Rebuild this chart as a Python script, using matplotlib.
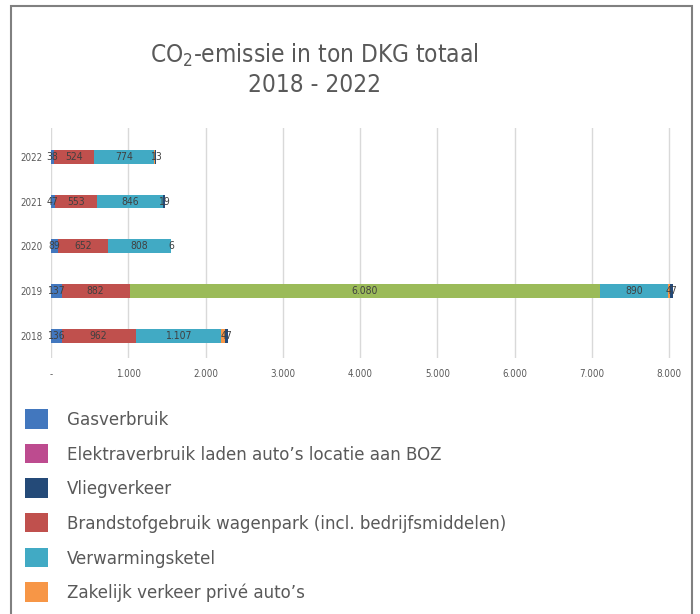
import numpy as np
import matplotlib
matplotlib.use('Agg')
import matplotlib.pyplot as plt
from matplotlib import font_manager
from matplotlib.patches import Rectangle, Patch

# the original uses a narrow face: take the most condensed regular one installed
rank = {'ultra-condensed': 1, 'extra-condensed': 2, 'condensed': 3, 'semi-condensed': 4}
best = None
for f in font_manager.fontManager.ttflist:
    r = rank.get(str(f.stretch), 9)
    if 'Condensed' in f.name or 'Narrow' in f.name:
        r = min(r, 3)
    if r < 9 and f.style == 'normal' and f.weight in (400, 'normal', 'regular'):
        if best is None or r < best[0]:
            best = (r, f)

if best is not None:
    fam = best[1].name
    stretch = best[1].stretch
else:
    fam = 'Liberation Sans'
    stretch = 'normal'
plt.rcParams['font.family'] = [fam, 'DejaVu Sans']
plt.rcParams['font.stretch'] = stretch

# data (ton CO2)
years = ['2018', '2019', '2020', '2021', '2022']
gasverbruik = [136, 137, 89, 47, 38]
elektraverbruik = [0, 0, 0, 0, 0]
brandstof = [962, 882, 652, 553, 524]
overig = [0, 6080, 0, 0, 0]          # groene reeks, niet in zichtbare legenda
verwarmingsketel = [1107, 890, 808, 846, 774]
zakelijk_prive = [40, 15, 0, 8, 10]
vliegverkeer = [47, 47, 6, 19, 13]

xticks = [0, 1000, 2000, 3000, 4000, 5000, 6000, 7000, 8000]

def nl(v):
    if v == 0:
        return '-'
    return '{:,}'.format(int(v)).replace(',', '.')

fig = plt.figure(figsize=(7, 6.14), dpi=100)
ax = fig.add_axes([51/700, 1 - 358/614, 626/700, 230/614])

c_gas = '#4277BE'
c_elek = '#BD4B8F'
c_vlieg = '#244A78'
c_brand = '#C0504D'
c_verw = '#41AAC4'
c_zak = '#F79646'
c_green = '#9BBB59'

series = [
    (gasverbruik, c_gas, True),
    (elektraverbruik, c_elek, False),
    (brandstof, c_brand, True),
    (overig, c_green, True),
    (verwarmingsketel, c_verw, True),
    (zakelijk_prive, c_zak, False),
    (vliegverkeer, c_vlieg, True),
]

y = np.arange(len(years))
left = np.zeros(len(years))
for vals, col, show in series:
    vals = np.array(vals, dtype=float)
    ax.barh(y, vals, left=left, height=0.31, color=col, zorder=3)
    if show:
        for i, v in enumerate(vals):
            if v > 0:
                ax.text(left[i] + v / 2, y[i], nl(v), ha='center', va='center',
                        fontsize=7.5, color='#404040', zorder=4)
    left += vals

ax.set_xlim(0, 8100)
ax.set_ylim(-0.49, 4.64)
ax.set_yticks(y)
ax.set_yticklabels(years, fontsize=7, color='#595959')
ax.set_xticks(xticks)
ax.set_xticklabels([nl(t) for t in xticks], fontsize=7, color='#595959')
ax.tick_params(length=0)
ax.tick_params(axis='x', pad=8)
ax.tick_params(axis='y', pad=6)
ax.grid(axis='x', color='#D9D9D9', linewidth=1, zorder=0)
for s in ax.spines.values():
    s.set_visible(False)

fig.text(314/700, 1 - 55/614, r'CO$_\mathregular{2}$-emissie in ton DKG totaal',
         ha='center', va='center', fontsize=17.5, color='#595959')
fig.text(314/700, 1 - 85/614, '2018 - 2022', ha='center', va='center',
         fontsize=17.5, color='#595959')

# frame
fig.add_artist(Rectangle((11/700, -0.05), 681/700, 1.05 - 6/614, transform=fig.transFigure,
                         fill=False, edgecolor='#808080', linewidth=1.5))

labels = ['Gasverbruik', 'Elektraverbruik laden auto\u2019s locatie aan BOZ', 'Vliegverkeer',
          'Brandstofgebruik wagenpark (incl. bedrijfsmiddelen)', 'Verwarmingsketel',
          'Zakelijk verkeer priv\u00e9 auto\u2019s']
colors = [c_gas, c_elek, c_vlieg, c_brand, c_verw, c_zak]
handles = [Patch(facecolor=c, edgecolor='none') for c in colors]
fig.legend(handles, labels, loc='upper left', bbox_to_anchor=(16/700, 1 - 400/614),
           frameon=False, fontsize=13.3, handlelength=1.25, handleheight=1.25,
           handletextpad=1.0, labelspacing=0.79, labelcolor='#595959', borderpad=0)

fig.savefig('out.png', dpi=100, facecolor='white')
